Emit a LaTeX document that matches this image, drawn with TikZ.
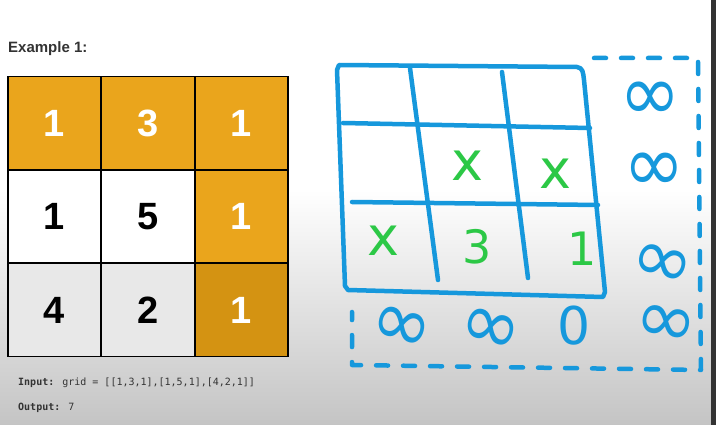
\documentclass[tikz,border=0pt]{standalone}
\usepackage{fontspec}
\setmainfont{Liberation Sans}
\newfontfamily\dejavu{DejaVu Sans}
\newfontfamily\monof{DejaVu Sans Mono}
\definecolor{gold}{RGB}{234,165,28}
\definecolor{golddark}{RGB}{212,147,18}
\definecolor{penblue}{RGB}{22,152,220}
\definecolor{pengreen}{RGB}{44,200,70}
\definecolor{cellgray}{RGB}{232,232,232}
\definecolor{bggray}{RGB}{196,196,196}
\begin{document}
\begin{tikzpicture}[x=1pt,y=-1pt,
  cell/.style={draw=black,line width=1.4pt,minimum width=93pt,minimum height=93pt,inner sep=0pt,font=\fontsize{38}{40}\selectfont\bfseries},
  gcell/.style={cell,fill=gold,text=white},
  wcell/.style={cell,fill=white,text=black},
  pen/.style={draw=penblue,line width=4.5pt,line cap=round,line join=round},
  dashline/.style={pen,dash pattern=on 12pt off 15pt},
  infsym/.style={text=penblue,font=\dejavu\fontsize{66}{66}\selectfont,inner sep=0pt,text height=16pt,text depth=0pt,xscale=1.12,yscale=1.2},
  infsmall/.style={text=penblue,font=\dejavu\fontsize{58}{58}\selectfont,inner sep=0pt,text height=14pt,text depth=0pt,xscale=1.3,yscale=1.3},
  gmark/.style={text=pengreen,font=\dejavu\fontsize{54}{54}\selectfont,inner sep=0pt}]
\useasboundingbox (0,0) rectangle (716,425);
% background
\fill[white] (0,0) rectangle (716,190);
\shade[top color=white,bottom color=bggray] (0,190) rectangle (716,425);
\fill[black!80] (711,0) rectangle (716,425);
% title
\node[anchor=base west,inner sep=0pt,text=black!80,font=\fontsize{15}{16}\selectfont\bfseries] (title) at (8,53) {Example 1:};
% left grid
\node[gcell] (c11) at (54.5,123) {1};
\node[gcell] (c12) at (148,123) {3};
\node[gcell] (c13) at (241.5,123) {1};
\node[wcell] (c21) at (54.5,216.5) {1};
\node[wcell] (c22) at (148,216.5) {5};
\node[gcell] (c23) at (241.5,216.5) {1};
\node[wcell,fill=cellgray] (c31) at (54.5,310) {4};
\node[wcell,fill=cellgray] (c32) at (148,310) {2};
\node[gcell,fill=golddark] (c33) at (241.5,310) {1};
% text
\node[anchor=base west,inner sep=0pt,text=black!80,font=\monof\fontsize{10}{12}\selectfont] (inp) at (18,385) {\textbf{Input:} grid = [[1,3,1],[1,5,1],[4,2,1]]};
\node[anchor=base west,inner sep=0pt,text=black!80,font=\monof\fontsize{10}{12}\selectfont] (outp) at (18,410) {\textbf{Output:} 7};
% sketched grid
\draw[pen] (339,65) -- (577,67) .. controls (583,68) and (583,72) .. (584,80) -- (605,292) -- (603,297) -- (348,290) -- (345,286) -- (337,70) -- cycle;
\draw[pen] (410,68) -- (438,280);
\draw[pen] (502,72) -- (528,278);
\draw[pen] (343,123) -- (590,128);
\draw[pen] (352,202) -- (598,205);
% dashed border
\draw[dashline] (594,58) -- (698,58) -- (701,370) -- (352,365) -- (352,312);
% green marks
\node[gmark] (m1) at (467,166) {x};
\node[gmark] (m2) at (555,174) {x};
\node[gmark] (m3) at (383,241) {x};
\node[gmark,font=\dejavu\fontsize{46}{46}\selectfont] (m4) at (477,247) {3};
\node[gmark,font=\dejavu\fontsize{46}{46}\selectfont] (m5) at (582,249) {1};
% infinities
\node[infsym] (i1) at (650,111) {∞};
\node[infsym] (i2) at (654,182) {∞};
\node[infsmall,rotate=-15] (i3) at (659,275) {∞};
\node[infsmall,rotate=-10] (i4) at (664,335) {∞};
\node[infsym,rotate=-15] (i5) at (399,339) {∞};
\node[infsym,rotate=-15] (i6) at (488,341) {∞};
\node[text=penblue,font=\dejavu\fontsize{52}{52}\selectfont,inner sep=0pt] (z) at (574,326) {0};
\end{tikzpicture}
\end{document}
